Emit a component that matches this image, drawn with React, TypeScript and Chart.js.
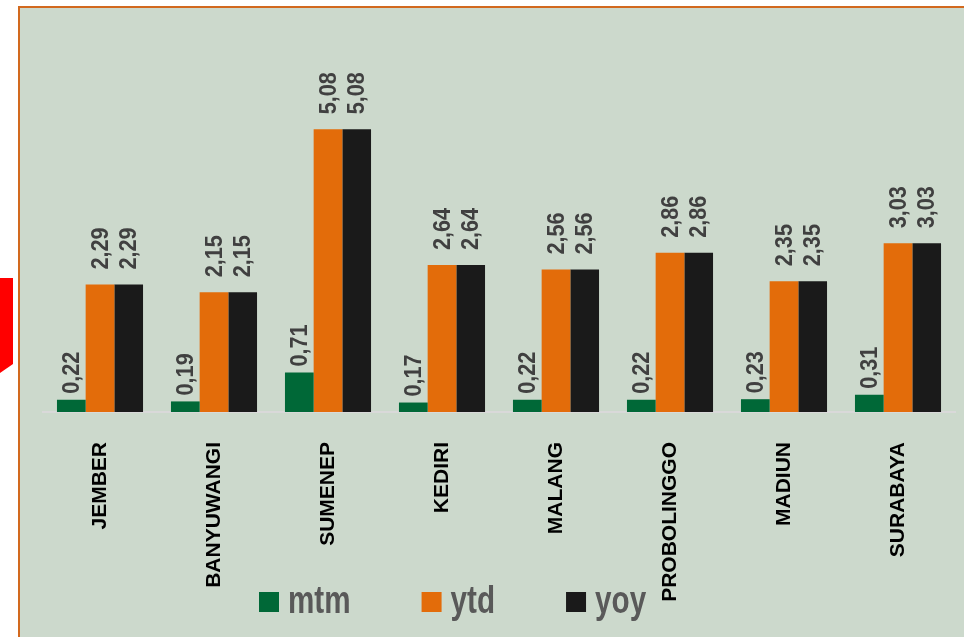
import React, { useEffect, useRef } from "react";
import { Chart, registerables } from "chart.js";

Chart.register(...registerables);

const categories = ["JEMBER", "BANYUWANGI", "SUMENEP", "KEDIRI", "MALANG", "PROBOLINGGO", "MADIUN", "SURABAYA"];
const mtm = [0.22, 0.19, 0.71, 0.17, 0.22, 0.22, 0.23, 0.31];
const ytd = [2.29, 2.15, 5.08, 2.64, 2.56, 2.86, 2.35, 3.03];
const yoy = [2.29, 2.15, 5.08, 2.64, 2.56, 2.86, 2.35, 3.03];
const seriesNames = ["mtm", "ytd", "yoy"];
const seriesColors = ["#006837", "#e36c0a", "#1a1a1a"];

const fmt = (v: number) => v.toFixed(2).replace(".", ",");

const bgPlugin = {
  id: "bgPlugin",
  beforeDraw(chart: any) {
    const ctx = chart.ctx;
    ctx.save();
    ctx.fillStyle = "#ffffff";
    ctx.fillRect(0, 0, chart.width, chart.height);
    ctx.fillStyle = "#ff0000";
    ctx.beginPath();
    ctx.moveTo(0, 278);
    ctx.lineTo(13, 278);
    ctx.lineTo(13, 364);
    ctx.lineTo(0, 373);
    ctx.closePath();
    ctx.fill();
    ctx.fillStyle = "#ccd9cc";
    ctx.fillRect(18, 6, chart.width - 18, chart.height - 6);
    ctx.fillStyle = "#d2691e";
    ctx.fillRect(18, 6, chart.width - 18, 2);
    ctx.fillRect(18, 6, 2, chart.height - 6);
    ctx.restore();
  },
};

const labelPlugin = {
  id: "labelPlugin",
  afterDatasetsDraw(chart: any) {
    const ctx = chart.ctx;
    ctx.save();
    ctx.font = "bold 21px 'Liberation Sans', Arial, sans-serif";
    ctx.fillStyle = "#404040";
    ctx.textAlign = "left";
    ctx.textBaseline = "middle";
    chart.data.datasets.forEach((ds: any, di: number) => {
      const meta = chart.getDatasetMeta(di);
      const gap = di === 0 ? 6 : 15;
      meta.data.forEach((bar: any, i: number) => {
        ctx.save();
        ctx.translate(bar.x, bar.y - gap);
        ctx.rotate(-Math.PI / 2);
        ctx.scale(1.03, 1.12);
        ctx.fillText(fmt(ds.data[i]), 0, 1);
        ctx.restore();
      });
    });
    ctx.restore();
  },
};

const legendPlugin = {
  id: "legendPlugin",
  afterDraw(chart: any) {
    const ctx = chart.ctx;
    ctx.save();
    const sx = 0.78;
    ctx.font = "bold 38px 'Liberation Sans', Arial, sans-serif";
    ctx.textBaseline = "alphabetic";
    ctx.textAlign = "left";
    let x = 259;
    chart.data.datasets.forEach((ds: any) => {
      ctx.fillStyle = ds.backgroundColor;
      ctx.fillRect(x, 592, 20, 20);
      x += 29;
      ctx.save();
      ctx.translate(x, 613);
      ctx.scale(sx, 1);
      ctx.fillStyle = "#595959";
      ctx.fillText(ds.label, 0, 0);
      ctx.restore();
      x += ctx.measureText(ds.label).width * sx + 71;
    });
    ctx.restore();
  },
};

export default function App() {
  const ref = useRef<HTMLCanvasElement | null>(null);
  useEffect(() => {
    if (!ref.current) return;
    const values = [mtm, ytd, yoy];
    const chart = new Chart(ref.current, {
      type: "bar",
      data: {
        labels: categories,
        datasets: values.map((d, i) => ({
          label: seriesNames[i],
          data: d,
          backgroundColor: seriesColors[i],
          borderWidth: 0,
          categoryPercentage: 0.755,
          barPercentage: 1.0,
        })),
      },
      options: {
        responsive: false,
        animation: false,
        layout: { padding: { left: 43, right: 9, top: 78, bottom: 0 } },
        plugins: { legend: { display: false }, tooltip: { enabled: false } },
        scales: {
          x: {
            grid: { display: false, drawTicks: false },
            border: { display: true, color: "#d9d9d9", width: 2 },
            ticks: {
              autoSkip: false,
              maxRotation: 90,
              minRotation: 90,
              padding: 30,
              color: "#000000",
              font: { family: "'Liberation Sans', Arial, sans-serif", size: 21, weight: "bold" },
            },
            afterFit: (scale: any) => {
              scale.height = 225;
            },
          },
          y: { display: false, min: 0, max: 6 },
        },
      },
      plugins: [bgPlugin, labelPlugin, legendPlugin],
    });
    return () => chart.destroy();
  }, []);
  return (
    <div style={{ position: "fixed", left: 0, top: 0, width: 964, height: 637 }}>
      <canvas ref={ref} width={964} height={637} style={{ display: "block", width: 964, height: 637 }} />
    </div>
  );
}
